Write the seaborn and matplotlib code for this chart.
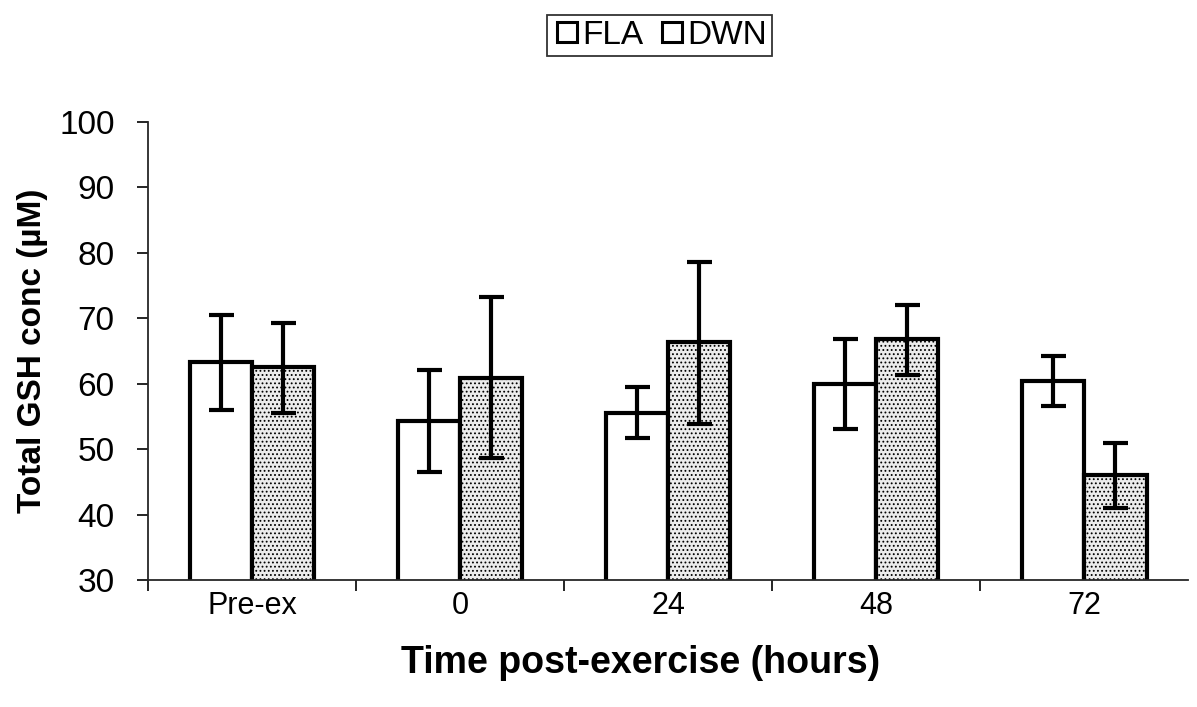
import pandas as pd
import matplotlib
matplotlib.use('Agg')
import matplotlib.pyplot as plt
import seaborn as sns
from matplotlib.lines import Line2D

# values
times = ['Pre-ex', '0', '24', '48', '72']
fla_mean = [63.3, 54.3, 55.5, 60.0, 60.4]
fla_low = [56.0, 46.5, 51.7, 53.1, 56.6]
fla_high = [70.5, 62.1, 59.5, 66.9, 64.3]
dwn_mean = [62.6, 60.9, 66.4, 66.9, 46.1]
dwn_low = [55.5, 48.7, 53.9, 61.3, 41.0]
dwn_high = [69.3, 73.3, 78.6, 72.0, 51.0]
groups = ['FLA', 'DWN']

df = pd.DataFrame({
    'time': times * 2,
    'group': ['FLA'] * 5 + ['DWN'] * 5,
    'conc': fla_mean + dwn_mean,
})

sns.set_style('ticks')
plt.rcParams['font.family'] = ['Liberation Sans', 'DejaVu Sans']
plt.rcParams['text.color'] = 'black'
plt.rcParams['axes.labelcolor'] = 'black'
plt.rcParams['xtick.color'] = 'black'
plt.rcParams['ytick.color'] = 'black'
plt.rcParams['hatch.color'] = '#666666'
plt.rcParams['hatch.linewidth'] = 0.8

fig = plt.figure(figsize=(11.97, 7.07), dpi=100)
ax = fig.add_axes([0.1236, 0.1797, 0.869, 0.6477])

sns.barplot(data=df, x='time', y='conc', hue='group', order=times, hue_order=groups,
            palette={'FLA': 'white', 'DWN': '#ececec'}, width=0.6, gap=0,
            edgecolor='black', linewidth=3, legend=False, ax=ax)

# stipple the DWN bars and add asymmetric error bars
for gi, (means, lows, highs) in enumerate([(fla_mean, fla_low, fla_high),
                                           (dwn_mean, dwn_low, dwn_high)]):
    cont = ax.containers[gi]
    xs = [p.get_x() + p.get_width() / 2 for p in cont.patches]
    if gi == 1:
        for p in cont.patches:
            p.set_hatch('....')
    err = [[m - l for m, l in zip(means, lows)], [h - m for m, h in zip(means, highs)]]
    ax.errorbar(xs, means, yerr=err, fmt='none', ecolor='black', elinewidth=3,
                capsize=9, capthick=3, zorder=5)

ax.set_ylim(30, 100)
ax.set_xlim(-0.5, 4.5)
ax.set_yticks(range(30, 101, 10))
ax.set_xticks([i + 0.5 for i in range(-1, 4)], minor=True)
ax.set_xticks(range(5))
ax.set_xticklabels(times)
ax.tick_params(axis='x', which='major', length=0, labelsize=22, pad=8)
ax.tick_params(axis='x', which='minor', length=8, width=1.2, direction='out')
ax.tick_params(axis='y', labelsize=24, length=8, width=1.2, pad=16)
for side in ['top', 'right']:
    ax.spines[side].set_visible(False)
ax.spines['left'].set_linewidth(1.3)
ax.spines['bottom'].set_linewidth(1.3)

ax.set_xlabel('Time post-exercise (hours)', fontsize=27, fontweight='bold')
ax.xaxis.set_label_coords(0.474, -0.142)
ax.set_ylabel('Total GSH conc (\u00b5M)', fontsize=24, fontweight='bold', labelpad=8)

handles = [Line2D([], [], marker='s', linestyle='none', markersize=14,
                  markerfacecolor='white', markeredgecolor='black', markeredgewidth=2.2)
           for _ in groups]
leg = fig.legend(handles, groups, loc='center', bbox_to_anchor=(0.551, 0.95), ncol=2,
                 frameon=True, fancybox=False, fontsize=24, handletextpad=0.0,
                 columnspacing=0.4, borderpad=0.15, handlelength=0.9)
leg.get_frame().set_edgecolor('black')
leg.get_frame().set_linewidth(1.3)

fig.savefig('out.png', dpi=100)
